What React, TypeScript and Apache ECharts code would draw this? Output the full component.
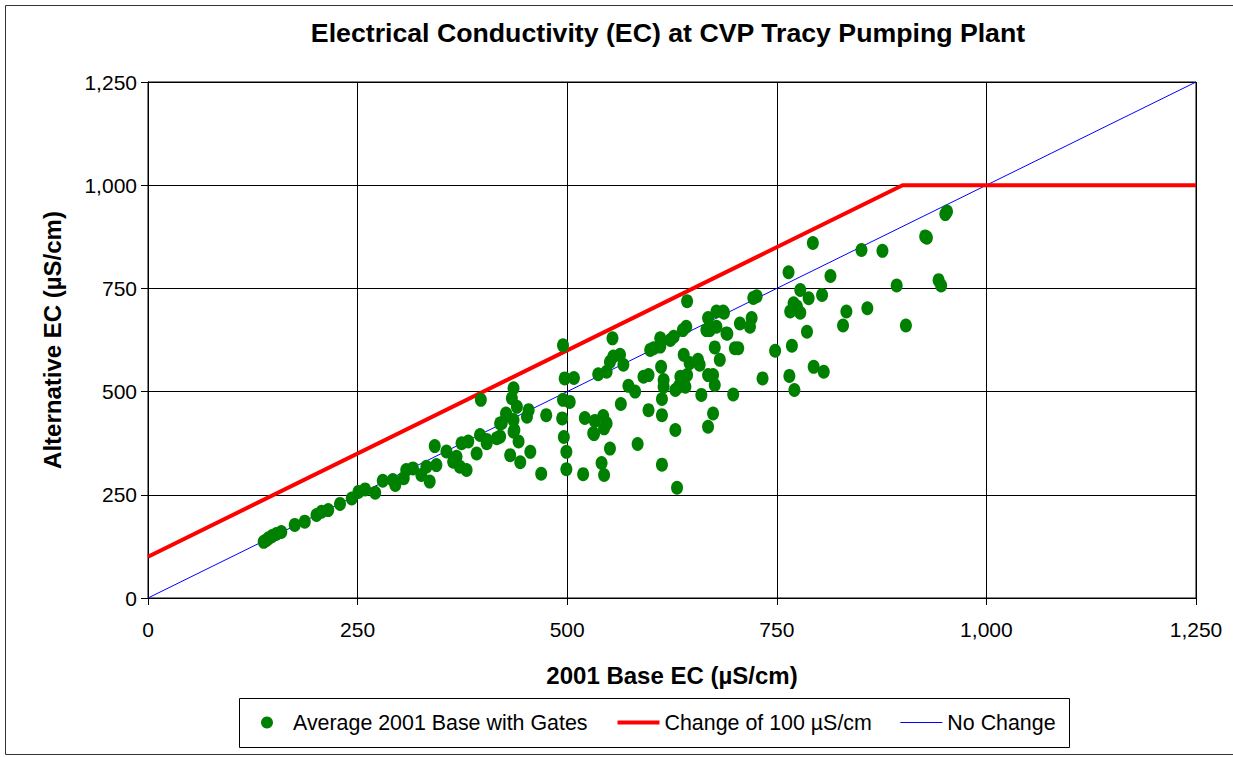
import React, { useEffect, useRef } from "react";
import * as echarts from "echarts";

const TITLE = "Electrical Conductivity (EC) at CVP Tracy Pumping Plant";
const X_NAME = "2001 Base EC (µS/cm)";
const Y_NAME = "Alternative EC (µS/cm)";
const SERIES_NAMES = ["Average 2001 Base with Gates", "Change of 100 µS/cm", "No Change"];

// [2001 Base EC, Alternative EC]
const scatterPoints: number[][] = [
  [138, 136], [141, 140], [144, 145], [148, 150], [153, 155], [159, 160], [175, 177], [187, 185],
  [201, 201], [207, 209], [215, 213], [229, 228], [243, 241], [251, 257], [259, 263], [271, 255],
  [280, 284], [292, 286], [295, 274], [305, 290], [308, 310], [316, 314], [326, 298], [336, 282],
  [332, 318], [344, 322], [342, 368], [356, 355], [364, 330], [372, 318], [380, 310], [374, 375],
  [382, 379], [392, 350], [396, 395], [404, 375], [397, 480], [368, 342], [404, 383], [416, 387],
  [420, 391], [420, 423], [428, 443], [436, 403], [442, 379], [436, 508], [434, 484], [440, 463],
  [454, 455], [452, 439], [427, 447], [422, 424], [436, 431], [437, 407], [432, 346], [444, 329],
  [456, 354], [469, 301], [475, 443],
  [495, 612], [497, 532], [508, 533], [495, 480], [503, 475], [494, 435], [496, 390], [499, 354],
  [499, 312], [519, 300], [521, 436], [533, 429], [543, 441], [547, 423], [544, 411], [532, 397],
  [551, 362], [541, 327], [544, 298], [537, 542], [547, 548], [551, 572], [563, 589], [567, 565],
  [573, 514], [581, 500], [564, 470], [554, 629], [555, 585], [584, 373], [531, 399],
  [591, 536], [597, 540], [612, 560], [599, 601], [603, 605], [611, 609], [611, 629], [623, 625],
  [627, 633], [638, 649], [642, 657], [643, 719], [639, 589], [646, 569], [656, 577], [658, 565],
  [615, 528], [615, 512], [613, 482], [629, 504], [633, 512], [635, 536], [643, 540], [641, 512],
  [597, 455], [613, 443], [629, 407], [613, 323], [631, 267], [660, 492],
  [668, 678], [678, 694], [686, 694], [670, 649], [678, 657], [666, 649], [676, 607], [682, 577],
  [668, 540], [674, 540], [676, 516], [674, 447], [668, 415], [690, 641], [700, 605], [704, 605],
  [698, 493], [720, 678], [718, 657], [706, 665], [722, 727], [726, 731], [687, 691], [691, 640],
  [733, 532], [748, 599], [765, 538], [771, 504], [768, 611], [764, 789], [766, 694], [778, 691],
  [774, 706], [786, 645], [778, 746], [788, 726], [770, 714], [804, 734], [793, 860], [794, 560],
  [806, 548], [814, 780],
  [833, 694], [829, 660], [851, 843], [876, 841], [858, 702], [893, 757], [904, 660], [929, 873],
  [927, 876], [943, 770], [946, 757], [953, 936], [951, 930],
];

const changeLine: number[][] = [[0, 100], [900, 1000], [1250, 1000]];
const noChangeLine: number[][] = [[0, 0], [1250, 1250]];

const AXIS_MIN = 0;
const AXIS_MAX = 1250;
const AXIS_STEP = 250;

const FONT = "'Liberation Sans', Arial, sans-serif";

const fmt = (v: number) => v.toLocaleString("en-US");

export default function App() {
  const ref = useRef<HTMLDivElement>(null);
  useEffect(() => {
    if (!ref.current) return;
    const chart = echarts.init(ref.current, undefined, { renderer: "svg" });
    const axisCommon = {
      type: "value" as const,
      min: AXIS_MIN,
      max: AXIS_MAX,
      interval: AXIS_STEP,
      axisLine: { show: true, lineStyle: { color: "#000", width: 1 } },
      axisTick: { show: true, length: 7, lineStyle: { color: "#000" } },
      splitLine: { show: true, lineStyle: { color: "#000", width: 1 } },
    };
    chart.setOption({
      animation: false,
      backgroundColor: "#fff",
      textStyle: { fontFamily: FONT },
      title: {
        text: TITLE,
        left: 663,
        textAlign: "center",
        top: 14,
        textStyle: { fontFamily: FONT, fontSize: 26.7, fontWeight: "bold", color: "#000" },
      },
      grid: { left: 148, top: 82, right: 37, bottom: 159, show: true, borderColor: "#000", borderWidth: 1, containLabel: false },
      xAxis: {
        ...axisCommon,
        name: X_NAME,
        nameLocation: "middle",
        nameGap: 65,
        nameTextStyle: { fontFamily: FONT, fontSize: 24, fontWeight: "bold", color: "#000" },
        axisLabel: { fontFamily: FONT, fontSize: 21, color: "#000", margin: 21, formatter: fmt },
      },
      yAxis: {
        ...axisCommon,
        name: Y_NAME,
        nameLocation: "middle",
        nameGap: 84,
        nameRotate: 90,
        nameTextStyle: { fontFamily: FONT, fontSize: 24, fontWeight: "bold", color: "#000" },
        axisLabel: { fontFamily: FONT, fontSize: 21, color: "#000", margin: 11, formatter: fmt },
      },
      legend: {
        left: 261,
        top: 712,
        padding: 0,
        itemGap: 28,
        itemWidth: 42,
        itemHeight: 12,
        textStyle: { fontFamily: FONT, fontSize: 21.4, color: "#000" },
        data: [
          { name: SERIES_NAMES[0], icon: "circle" },
          { name: SERIES_NAMES[1], itemStyle: { opacity: 0 }, lineStyle: { width: 4, color: "#ff0000" } },
          { name: SERIES_NAMES[2], itemStyle: { opacity: 0 }, lineStyle: { width: 1, color: "#0000ff" } },
        ],
      },
      graphic: [
        { type: "rect", shape: { x: 5.5, y: 5.5, width: 1240, height: 749 }, style: { fill: "none", stroke: "#333", lineWidth: 1 }, silent: true },
        { type: "rect", shape: { x: 239.5, y: 698.5, width: 830, height: 49 }, style: { fill: "none", stroke: "#000", lineWidth: 1 }, silent: true },
      ],
      series: [
        {
          name: SERIES_NAMES[2],
          type: "line",
          data: noChangeLine,
          showSymbol: false,
          symbol: "none",
          lineStyle: { color: "#0000ff", width: 1 },
          itemStyle: { color: "#0000ff" },
          z: 3,
        },
        {
          name: SERIES_NAMES[1],
          type: "line",
          data: changeLine,
          showSymbol: false,
          symbol: "none",
          lineStyle: { color: "#ff0000", width: 4 },
          itemStyle: { color: "#ff0000" },
          z: 4,
        },
        {
          name: SERIES_NAMES[0],
          type: "scatter",
          data: scatterPoints,
          symbol: "circle",
          symbolSize: [12, 14],
          itemStyle: { color: "#008000", opacity: 1 },
          z: 5,
        },
      ],
    });
    return () => chart.dispose();
  }, []);
  return <div ref={ref} style={{ position: "fixed", left: 0, top: 0, width: 1233, height: 757 }} />;
}
